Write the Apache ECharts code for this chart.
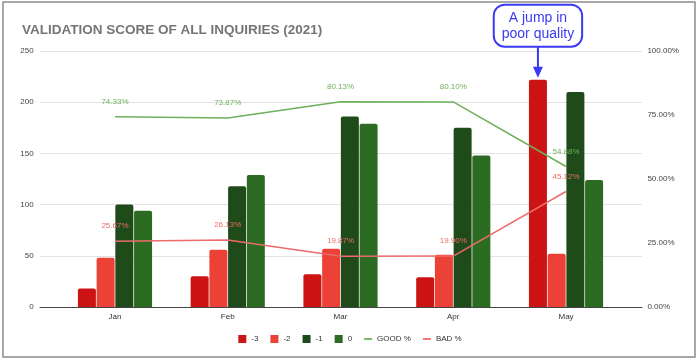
<!DOCTYPE html>
<html>
<head>
<meta charset="utf-8">
<script src="https://cdn.jsdelivr.net/npm/echarts@6/dist/echarts.min.js"></script>
<style>
html,body{margin:0;padding:0;background:#fff;}
#chart{width:700px;height:360px;}
</style>
</head>
<body>
<div id="chart"></div>
<script>
const categories = ['Jan', 'Feb', 'Mar', 'Apr', 'May'];
const scoreM3 = [18, 30, 32, 29, 222];
const scoreM2 = [48, 56, 57, 51, 52];
const scoreM1 = [100, 118, 186, 175, 210];
const score0 = [94, 129, 179, 148, 124];
const goodPct = [74.33, 73.87, 80.13, 80.10, 54.88];
const badPct = [25.67, 26.13, 19.87, 19.90, 45.12];
const titleText = 'VALIDATION SCORE OF ALL INQUIRIES (2021)';
const annotationText = 'A jump in\npoor quality';

const FONT = 'Arial, "Liberation Sans", sans-serif';
const C3 = '#cc1414', C2 = '#ec4136', C1 = '#1f4a19', C0 = '#2b6c22';
const CG = '#6eb05a', CB = '#ec6b6b', BLUE = '#3a3af2';

const chart = echarts.init(document.getElementById('chart'), null, {renderer: 'canvas'});

function bar(name, data, color, extra) {
  return Object.assign({
    name, type: 'bar', data, xAxisIndex: 0, yAxisIndex: 0,
    barWidth: 18, barGap: '4%',
    itemStyle: {color, borderRadius: [2, 2, 0, 0]},
    emphasis: {disabled: true}
  }, extra || {});
}
function line(name, data, color) {
  return {
    name, type: 'line', data, xAxisIndex: 0, yAxisIndex: 1,
    symbol: 'circle', symbolSize: 0, showSymbol: true,
    lineStyle: {color, width: 1.5},
    itemStyle: {color},
    label: {show: true, position: 'top', distance: 11, color, fontSize: 8, fontFamily: FONT,
      formatter: p => p.value.toFixed(2) + '%'},
    emphasis: {disabled: true}, z: 5
  };
}

const option = {
  animation: false,
  backgroundColor: '#fff',
  textStyle: {fontFamily: FONT},
  title: {text: titleText, left: 17, top: 18,
    textStyle: {fontSize: 13.5, fontWeight: 'bold', color: '#757575', fontFamily: FONT}},
  graphic: [{type: 'rect', shape: {x: 3, y: 2, width: 692, height: 355},
    style: {fill: 'none', stroke: '#8c8c8c', lineWidth: 1.5}, silent: true}],
  legend: {
    left: 'center', top: 330, itemWidth: 8, itemHeight: 8, itemGap: 12,
    textStyle: {fontSize: 8, color: '#333', fontFamily: FONT},
    data: [
      {name: '-3', icon: 'rect'}, {name: '-2', icon: 'rect'},
      {name: '-1', icon: 'rect'}, {name: '0', icon: 'rect'},
      {name: 'GOOD %', icon: 'path://M0,3.2 L8,3.2 L8,5 L0,5 Z'},
      {name: 'BAD %', icon: 'path://M0,3.2 L8,3.2 L8,5 L0,5 Z'}
    ]
  },
  grid: [
    {left: 58.6, right: 77.6, top: 51, bottom: 53},
    {left: 40, right: 58, top: 51, bottom: 53}
  ],
  xAxis: [
    {type: 'category', data: categories, gridIndex: 0,
      axisLine: {show: false}, axisTick: {show: false},
      axisLabel: {color: '#333', fontSize: 8, margin: 6, fontFamily: FONT}},
    {type: 'value', gridIndex: 1, min: 0, max: 1,
      axisLine: {show: true, lineStyle: {color: '#444', width: 1}},
      axisTick: {show: false}, axisLabel: {show: false}, splitLine: {show: false}}
  ],
  yAxis: [
    {type: 'value', gridIndex: 0, min: 0, max: 250, interval: 50,
      axisLine: {show: false}, axisTick: {show: false}, splitLine: {show: false},
      axisLabel: {color: '#444', fontSize: 8, margin: 25, fontFamily: FONT}},
    {type: 'value', gridIndex: 0, min: 0, max: 100, interval: 25, position: 'right',
      axisLine: {show: false}, axisTick: {show: false}, splitLine: {show: false},
      axisLabel: {color: '#444', fontSize: 8, margin: 25, fontFamily: FONT,
        formatter: v => v.toFixed(2) + '%'}},
    {type: 'value', gridIndex: 1, min: 0, max: 250, interval: 50,
      axisLine: {show: false}, axisTick: {show: false}, axisLabel: {show: false},
      splitLine: {show: true, lineStyle: {color: '#e2e2e2', width: 1}}}
  ],
  series: [
    bar('-3', scoreM3, C3, {
      markPoint: {
        data: [{type: 'max'}],
        symbol: 'path://M4,0 L6,0 L6,21 L10,21 L5,32 L0,21 L4,21 Z',
        symbolSize: [10, 32], symbolOffset: [0, -18],
        itemStyle: {color: BLUE},
        label: {show: true, position: 'top', distance: 0,
          formatter: annotationText, color: BLUE, fontSize: 14, lineHeight: 16,
          fontFamily: FONT, backgroundColor: '#fff', borderColor: BLUE, borderWidth: 2,
          borderRadius: 10, padding: [4, 7]},
        emphasis: {disabled: true}, silent: true
      }
    }),
    bar('-2', scoreM2, C2),
    bar('-1', scoreM1, C1),
    bar('0', score0, C0),
    line('GOOD %', goodPct, CG),
    line('BAD %', badPct, CB)
  ]
};
chart.setOption(option);
</script>
</body>
</html>
